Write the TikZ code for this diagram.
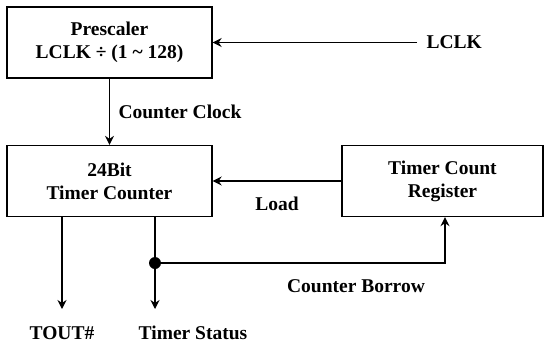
\documentclass[tikz,border=0pt]{standalone}
\usepackage{fontspec}
\setmainfont{Liberation Serif}
\usetikzlibrary{arrows.meta}
\begin{document}
\begin{tikzpicture}[x=1pt,y=-1pt,
  line width=1.3pt,
  txt/.style={font=\fontsize{19.5}{23}\selectfont\bfseries, inner sep=0pt},
  blk/.style={draw, txt, align=center, minimum width=205pt, minimum height=71pt},
  arr/.style={-{Stealth[length=9pt,width=9pt,inset=3pt]}},
  lbl/.style={txt, anchor=base}]
\useasboundingbox (0,0) rectangle (544,343);
\node[blk] (pre) at (109.5,42.5) {Prescaler\\LCLK ÷ (1 \textasciitilde\ 128)};
\node[blk] (tc) at (109.5,181) {24Bit\\Timer Counter};
\node[blk, minimum width=201pt] (tcr) at (442.5,181) {Timer Count\\Register};
\node[lbl, anchor=base west] (lclk) at (426,48) {LCLK};
\node[lbl] (cclk) at (180,118) {Counter Clock};
\node[lbl] (load) at (277,210) {Load};
\node[lbl] (cb) at (356,292) {Counter Borrow};
\node[lbl] (tout) at (62,339) {TOUT\#};
\node[lbl] (ts) at (193,339) {Timer Status};
\coordinate (toutend) at (62,309);
\coordinate (tsend) at (155,309);
\coordinate (dot) at (155,263);
\coordinate (corner) at (445,263);
\draw[arr, shorten <=9pt] (lclk.west |- pre.east) -- (pre.east);
\draw[arr] (pre) -- (tc);
\draw[arr] (tcr.west) -- (tc.east);
\draw[arr] (tc.south -| toutend) -- (toutend);
\draw[arr] (tc.south -| tsend) -- (tsend);
\draw[arr] (dot) -- (corner) -- (corner |- tcr.south);
\fill (dot) circle (6pt);
\end{tikzpicture}
\end{document}
